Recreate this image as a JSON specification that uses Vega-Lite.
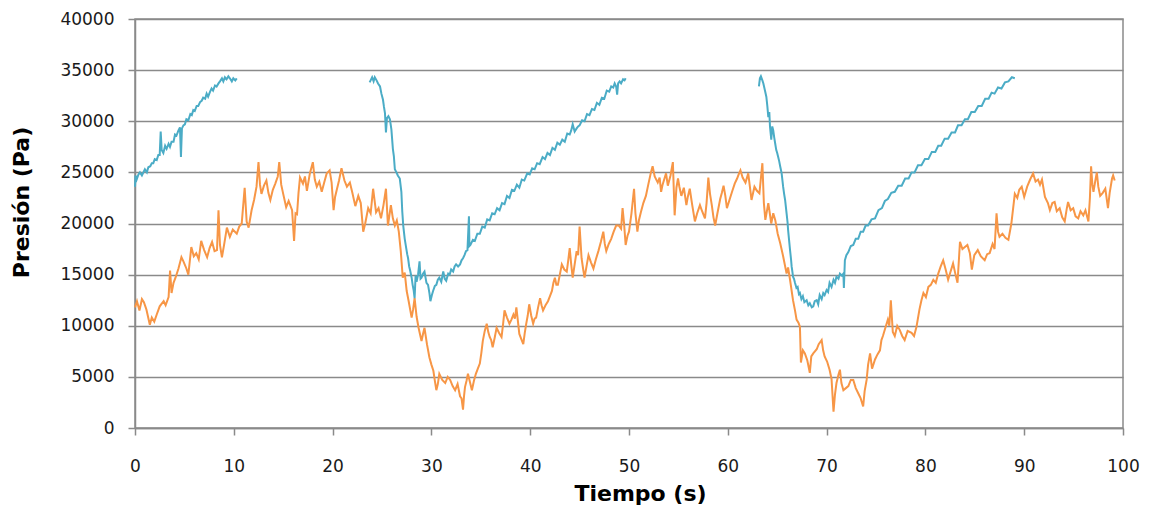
{
  "$schema": "https://vega.github.io/schema/vega-lite/v6.json",
  "width": 988,
  "height": 409,
  "autosize": {"type": "none"},
  "padding": {"left": 135, "top": 19, "right": 27, "bottom": 82},
  "background": "white",
  "config": {
    "view": {"stroke": "#8a8a8a", "strokeWidth": 1.5},
    "font": "DejaVu Sans"
  },
  "data": {"values": [
{"t":0,"s":"o","p":11800},{"t":0.2,"s":"o","p":12400},{"t":0.45,"s":"o","p":11500},{"t":0.7,"s":"o","p":12600},{"t":0.9,"s":"o","p":12300},{"t":1.15,"s":"o","p":11600},{"t":1.5,"s":"o","p":10100},{"t":1.7,"s":"o","p":10800},{"t":1.95,"s":"o","p":10400},{"t":2.2,"s":"o","p":11100},{"t":2.5,"s":"o","p":11900},{"t":2.9,"s":"o","p":12400},{"t":3.1,"s":"o","p":12000},{"t":3.4,"s":"o","p":12800},{"t":3.55,"s":"o","p":15400},{"t":3.7,"s":"o","p":13200},{"t":3.9,"s":"o","p":14200},{"t":4.1,"s":"o","p":14700},{"t":4.4,"s":"o","p":15600},{"t":4.7,"s":"o","p":16700},{"t":4.9,"s":"o","p":16300},{"t":5.2,"s":"o","p":15600},{"t":5.4,"s":"o","p":15000},{"t":5.7,"s":"o","p":17700},{"t":5.95,"s":"o","p":16800},{"t":6.2,"s":"o","p":17100},{"t":6.45,"s":"o","p":16500},{"t":6.7,"s":"o","p":18300},{"t":7.0,"s":"o","p":17400},{"t":7.3,"s":"o","p":16700},{"t":7.55,"s":"o","p":17600},{"t":7.8,"s":"o","p":18200},{"t":8.05,"s":"o","p":17300},{"t":8.3,"s":"o","p":17400},{"t":8.45,"s":"o","p":21300},{"t":8.6,"s":"o","p":17900},{"t":8.8,"s":"o","p":16700},{"t":9.05,"s":"o","p":18100},{"t":9.3,"s":"o","p":19600},{"t":9.6,"s":"o","p":18700},{"t":9.9,"s":"o","p":19400},{"t":10.3,"s":"o","p":19000},{"t":10.55,"s":"o","p":19700},{"t":10.8,"s":"o","p":20000},{"t":11.1,"s":"o","p":23500},{"t":11.3,"s":"o","p":20200},{"t":11.5,"s":"o","p":19600},{"t":11.8,"s":"o","p":21300},{"t":12.05,"s":"o","p":22300},{"t":12.3,"s":"o","p":23600},{"t":12.5,"s":"o","p":26000},{"t":12.65,"s":"o","p":23800},{"t":12.8,"s":"o","p":22900},{"t":13.05,"s":"o","p":23700},{"t":13.3,"s":"o","p":24200},{"t":13.5,"s":"o","p":23000},{"t":13.7,"s":"o","p":22300},{"t":13.95,"s":"o","p":23300},{"t":14.2,"s":"o","p":23900},{"t":14.45,"s":"o","p":24600},{"t":14.6,"s":"o","p":26000},{"t":14.8,"s":"o","p":23800},{"t":15.0,"s":"o","p":22900},{"t":15.3,"s":"o","p":21600},{"t":15.55,"s":"o","p":22200},{"t":15.9,"s":"o","p":21300},{"t":16.1,"s":"o","p":18300},{"t":16.25,"s":"o","p":21000},{"t":16.4,"s":"o","p":20900},{"t":16.55,"s":"o","p":23000},{"t":16.7,"s":"o","p":24500},{"t":17.0,"s":"o","p":23900},{"t":17.2,"s":"o","p":24600},{"t":17.4,"s":"o","p":23200},{"t":17.7,"s":"o","p":24900},{"t":18.0,"s":"o","p":26000},{"t":18.2,"s":"o","p":24300},{"t":18.4,"s":"o","p":23600},{"t":18.65,"s":"o","p":24100},{"t":18.9,"s":"o","p":23100},{"t":19.15,"s":"o","p":24000},{"t":19.4,"s":"o","p":24900},{"t":19.7,"s":"o","p":25200},{"t":19.9,"s":"o","p":24000},{"t":20.1,"s":"o","p":21300},{"t":20.25,"s":"o","p":22600},{"t":20.4,"s":"o","p":23200},{"t":20.65,"s":"o","p":24200},{"t":20.9,"s":"o","p":25400},{"t":21.2,"s":"o","p":24200},{"t":21.45,"s":"o","p":23600},{"t":21.75,"s":"o","p":24000},{"t":22.0,"s":"o","p":23000},{"t":22.3,"s":"o","p":21700},{"t":22.6,"s":"o","p":22700},{"t":22.85,"s":"o","p":22000},{"t":23.1,"s":"o","p":19200},{"t":23.3,"s":"o","p":20000},{"t":23.6,"s":"o","p":21500},{"t":23.85,"s":"o","p":21000},{"t":24.1,"s":"o","p":23400},{"t":24.4,"s":"o","p":21100},{"t":24.65,"s":"o","p":21500},{"t":24.9,"s":"o","p":20500},{"t":25.15,"s":"o","p":21800},{"t":25.4,"s":"o","p":23400},{"t":25.6,"s":"o","p":19800},{"t":25.9,"s":"o","p":21800},{"t":26.1,"s":"o","p":20500},{"t":26.3,"s":"o","p":19800},{"t":26.5,"s":"o","p":20300},{"t":26.7,"s":"o","p":19200},{"t":26.9,"s":"o","p":17300},{"t":27.1,"s":"o","p":14700},{"t":27.3,"s":"o","p":15200},{"t":27.5,"s":"o","p":13400},{"t":27.7,"s":"o","p":12400},{"t":28.0,"s":"o","p":10800},{"t":28.15,"s":"o","p":11600},{"t":28.3,"s":"o","p":12700},{"t":28.5,"s":"o","p":10900},{"t":28.7,"s":"o","p":9800},{"t":29.0,"s":"o","p":8500},{"t":29.15,"s":"o","p":9200},{"t":29.3,"s":"o","p":9800},{"t":29.55,"s":"o","p":8200},{"t":29.8,"s":"o","p":6900},{"t":30.0,"s":"o","p":6200},{"t":30.2,"s":"o","p":5600},{"t":30.35,"s":"o","p":4600},{"t":30.5,"s":"o","p":3700},{"t":30.65,"s":"o","p":4300},{"t":30.8,"s":"o","p":5300},{"t":31.1,"s":"o","p":4700},{"t":31.4,"s":"o","p":4400},{"t":31.65,"s":"o","p":5000},{"t":31.9,"s":"o","p":4700},{"t":32.15,"s":"o","p":4100},{"t":32.4,"s":"o","p":3700},{"t":32.65,"s":"o","p":4300},{"t":32.9,"s":"o","p":3100},{"t":33.05,"s":"o","p":2900},{"t":33.2,"s":"o","p":1800},{"t":33.3,"s":"o","p":3100},{"t":33.4,"s":"o","p":4000},{"t":33.55,"s":"o","p":4600},{"t":33.7,"s":"o","p":5300},{"t":33.9,"s":"o","p":4500},{"t":34.1,"s":"o","p":3700},{"t":34.3,"s":"o","p":4600},{"t":34.5,"s":"o","p":5300},{"t":34.7,"s":"o","p":5800},{"t":34.9,"s":"o","p":6300},{"t":35.05,"s":"o","p":7300},{"t":35.2,"s":"o","p":8500},{"t":35.4,"s":"o","p":9500},{"t":35.6,"s":"o","p":10200},{"t":35.75,"s":"o","p":9400},{"t":35.9,"s":"o","p":8900},{"t":36.05,"s":"o","p":8600},{"t":36.2,"s":"o","p":7900},{"t":36.4,"s":"o","p":8800},{"t":36.6,"s":"o","p":9800},{"t":36.85,"s":"o","p":9300},{"t":37.1,"s":"o","p":8900},{"t":37.25,"s":"o","p":10100},{"t":37.4,"s":"o","p":11500},{"t":37.65,"s":"o","p":10800},{"t":37.9,"s":"o","p":10200},{"t":38.1,"s":"o","p":10600},{"t":38.3,"s":"o","p":11100},{"t":38.45,"s":"o","p":10700},{"t":38.6,"s":"o","p":11800},{"t":38.75,"s":"o","p":10500},{"t":38.9,"s":"o","p":9200},{"t":39.1,"s":"o","p":8700},{"t":39.3,"s":"o","p":8200},{"t":39.45,"s":"o","p":9300},{"t":39.6,"s":"o","p":10200},{"t":39.75,"s":"o","p":11000},{"t":39.9,"s":"o","p":12100},{"t":40.1,"s":"o","p":11000},{"t":40.3,"s":"o","p":10200},{"t":40.45,"s":"o","p":10700},{"t":40.6,"s":"o","p":10800},{"t":40.8,"s":"o","p":11800},{"t":41.0,"s":"o","p":12700},{"t":41.15,"s":"o","p":12000},{"t":41.3,"s":"o","p":11500},{"t":41.55,"s":"o","p":12000},{"t":41.8,"s":"o","p":12400},{"t":42.0,"s":"o","p":12900},{"t":42.2,"s":"o","p":13400},{"t":42.35,"s":"o","p":14200},{"t":42.5,"s":"o","p":14700},{"t":42.65,"s":"o","p":14000},{"t":42.8,"s":"o","p":14000},{"t":43.0,"s":"o","p":15000},{"t":43.2,"s":"o","p":16000},{"t":43.45,"s":"o","p":15500},{"t":43.7,"s":"o","p":15300},{"t":43.85,"s":"o","p":16400},{"t":44.0,"s":"o","p":17600},{"t":44.15,"s":"o","p":16000},{"t":44.3,"s":"o","p":14700},{"t":44.5,"s":"o","p":16000},{"t":44.7,"s":"o","p":17300},{"t":44.85,"s":"o","p":16900},{"t":45.0,"s":"o","p":19700},{"t":45.2,"s":"o","p":16600},{"t":45.35,"s":"o","p":15600},{"t":45.5,"s":"o","p":14700},{"t":45.7,"s":"o","p":15800},{"t":45.9,"s":"o","p":16900},{"t":46.15,"s":"o","p":16200},{"t":46.4,"s":"o","p":15600},{"t":46.65,"s":"o","p":16500},{"t":46.9,"s":"o","p":17300},{"t":47.15,"s":"o","p":18200},{"t":47.4,"s":"o","p":19200},{"t":47.55,"s":"o","p":18000},{"t":47.7,"s":"o","p":17300},{"t":47.95,"s":"o","p":18000},{"t":48.2,"s":"o","p":18500},{"t":48.45,"s":"o","p":19200},{"t":48.7,"s":"o","p":19800},{"t":48.97,"s":"o","p":19800},{"t":49.2,"s":"o","p":19500},{"t":49.35,"s":"o","p":21500},{"t":49.5,"s":"o","p":20000},{"t":49.66,"s":"o","p":17900},{"t":49.85,"s":"o","p":18800},{"t":50.0,"s":"o","p":19200},{"t":50.25,"s":"o","p":21000},{"t":50.51,"s":"o","p":23400},{"t":50.65,"s":"o","p":21000},{"t":50.85,"s":"o","p":19200},{"t":51.0,"s":"o","p":20300},{"t":51.2,"s":"o","p":21100},{"t":51.45,"s":"o","p":22000},{"t":51.71,"s":"o","p":22700},{"t":51.95,"s":"o","p":23800},{"t":52.22,"s":"o","p":25000},{"t":52.39,"s":"o","p":25600},{"t":52.6,"s":"o","p":24600},{"t":52.91,"s":"o","p":24000},{"t":53.1,"s":"o","p":24500},{"t":53.25,"s":"o","p":23100},{"t":53.4,"s":"o","p":23800},{"t":53.59,"s":"o","p":24400},{"t":53.75,"s":"o","p":24900},{"t":53.93,"s":"o","p":23700},{"t":54.2,"s":"o","p":24700},{"t":54.44,"s":"o","p":26000},{"t":54.62,"s":"o","p":20800},{"t":54.8,"s":"o","p":23500},{"t":54.96,"s":"o","p":24400},{"t":55.1,"s":"o","p":23600},{"t":55.3,"s":"o","p":22700},{"t":55.55,"s":"o","p":23500},{"t":55.81,"s":"o","p":21800},{"t":55.95,"s":"o","p":22600},{"t":56.15,"s":"o","p":23400},{"t":56.4,"s":"o","p":21800},{"t":56.67,"s":"o","p":20200},{"t":56.9,"s":"o","p":21000},{"t":57.18,"s":"o","p":21800},{"t":57.4,"s":"o","p":21200},{"t":57.69,"s":"o","p":20500},{"t":57.85,"s":"o","p":22000},{"t":58.03,"s":"o","p":24500},{"t":58.2,"s":"o","p":22900},{"t":58.38,"s":"o","p":21800},{"t":58.55,"s":"o","p":20600},{"t":58.72,"s":"o","p":19800},{"t":58.95,"s":"o","p":21000},{"t":59.23,"s":"o","p":22400},{"t":59.4,"s":"o","p":23000},{"t":59.57,"s":"o","p":23700},{"t":59.75,"s":"o","p":22700},{"t":59.91,"s":"o","p":21500},{"t":60.2,"s":"o","p":22400},{"t":60.43,"s":"o","p":23100},{"t":60.7,"s":"o","p":23900},{"t":60.94,"s":"o","p":24400},{"t":61.1,"s":"o","p":24800},{"t":61.28,"s":"o","p":25200},{"t":61.5,"s":"o","p":24500},{"t":61.79,"s":"o","p":24000},{"t":62.07,"s":"o","p":24900},{"t":62.4,"s":"o","p":22300},{"t":62.7,"s":"o","p":23600},{"t":62.95,"s":"o","p":23200},{"t":63.2,"s":"o","p":22950},{"t":63.5,"s":"o","p":25900},{"t":63.65,"s":"o","p":22000},{"t":63.8,"s":"o","p":20350},{"t":64.1,"s":"o","p":22000},{"t":64.4,"s":"o","p":20000},{"t":64.6,"s":"o","p":21000},{"t":64.8,"s":"o","p":20350},{"t":65.05,"s":"o","p":19000},{"t":65.3,"s":"o","p":18100},{"t":65.6,"s":"o","p":16800},{"t":65.95,"s":"o","p":15100},{"t":66.1,"s":"o","p":15700},{"t":66.3,"s":"o","p":14500},{"t":66.6,"s":"o","p":12500},{"t":66.8,"s":"o","p":11500},{"t":66.96,"s":"o","p":10600},{"t":67.15,"s":"o","p":10300},{"t":67.3,"s":"o","p":9900},{"t":67.4,"s":"o","p":6400},{"t":67.6,"s":"o","p":7600},{"t":67.8,"s":"o","p":7300},{"t":68.05,"s":"o","p":6600},{"t":68.3,"s":"o","p":5400},{"t":68.45,"s":"o","p":7000},{"t":68.65,"s":"o","p":7300},{"t":69.0,"s":"o","p":7700},{"t":69.2,"s":"o","p":8200},{"t":69.5,"s":"o","p":8600},{"t":69.65,"s":"o","p":7600},{"t":69.8,"s":"o","p":7000},{"t":70.05,"s":"o","p":6500},{"t":70.3,"s":"o","p":5700},{"t":70.5,"s":"o","p":4800},{"t":70.7,"s":"o","p":1600},{"t":70.85,"s":"o","p":3300},{"t":71.0,"s":"o","p":4400},{"t":71.2,"s":"o","p":5200},{"t":71.35,"s":"o","p":5700},{"t":71.5,"s":"o","p":4400},{"t":71.7,"s":"o","p":3700},{"t":71.95,"s":"o","p":3900},{"t":72.2,"s":"o","p":4100},{"t":72.45,"s":"o","p":4700},{"t":72.7,"s":"o","p":4700},{"t":72.95,"s":"o","p":3900},{"t":73.2,"s":"o","p":3400},{"t":73.45,"s":"o","p":2900},{"t":73.7,"s":"o","p":2100},{"t":73.85,"s":"o","p":3600},{"t":74.05,"s":"o","p":4700},{"t":74.2,"s":"o","p":6200},{"t":74.4,"s":"o","p":7300},{"t":74.6,"s":"o","p":5800},{"t":74.9,"s":"o","p":6700},{"t":75.15,"s":"o","p":7200},{"t":75.4,"s":"o","p":7600},{"t":75.55,"s":"o","p":8600},{"t":75.7,"s":"o","p":9000},{"t":75.95,"s":"o","p":9800},{"t":76.2,"s":"o","p":10600},{"t":76.35,"s":"o","p":10000},{"t":76.5,"s":"o","p":12500},{"t":76.7,"s":"o","p":9400},{"t":76.9,"s":"o","p":9000},{"t":77.15,"s":"o","p":10000},{"t":77.4,"s":"o","p":9600},{"t":77.65,"s":"o","p":9000},{"t":77.9,"s":"o","p":8600},{"t":78.2,"s":"o","p":9500},{"t":78.6,"s":"o","p":9300},{"t":78.85,"s":"o","p":9000},{"t":79.1,"s":"o","p":9900},{"t":79.4,"s":"o","p":11600},{"t":79.6,"s":"o","p":12500},{"t":79.8,"s":"o","p":13200},{"t":80.05,"s":"o","p":12800},{"t":80.3,"s":"o","p":13800},{"t":80.55,"s":"o","p":14000},{"t":80.8,"s":"o","p":14500},{"t":81.05,"s":"o","p":14200},{"t":81.3,"s":"o","p":15100},{"t":81.55,"s":"o","p":15800},{"t":81.8,"s":"o","p":16400},{"t":82.05,"s":"o","p":15500},{"t":82.3,"s":"o","p":14500},{"t":82.55,"s":"o","p":15300},{"t":82.8,"s":"o","p":16100},{"t":83.05,"s":"o","p":15000},{"t":83.25,"s":"o","p":14200},{"t":83.5,"s":"o","p":18200},{"t":83.75,"s":"o","p":17500},{"t":84.0,"s":"o","p":17700},{"t":84.25,"s":"o","p":17900},{"t":84.5,"s":"o","p":17100},{"t":84.7,"s":"o","p":15500},{"t":84.95,"s":"o","p":16900},{"t":85.3,"s":"o","p":17400},{"t":85.6,"s":"o","p":16800},{"t":86.0,"s":"o","p":16400},{"t":86.25,"s":"o","p":17000},{"t":86.5,"s":"o","p":17100},{"t":86.8,"s":"o","p":18000},{"t":87.0,"s":"o","p":17500},{"t":87.2,"s":"o","p":21000},{"t":87.35,"s":"o","p":19200},{"t":87.5,"s":"o","p":18700},{"t":87.8,"s":"o","p":19000},{"t":88.1,"s":"o","p":18600},{"t":88.4,"s":"o","p":18400},{"t":88.7,"s":"o","p":20000},{"t":89.05,"s":"o","p":22900},{"t":89.3,"s":"o","p":22500},{"t":89.5,"s":"o","p":23300},{"t":89.75,"s":"o","p":23600},{"t":90.0,"s":"o","p":22600},{"t":90.3,"s":"o","p":23600},{"t":90.6,"s":"o","p":24300},{"t":90.9,"s":"o","p":24900},{"t":91.15,"s":"o","p":24100},{"t":91.4,"s":"o","p":24300},{"t":91.6,"s":"o","p":23800},{"t":91.8,"s":"o","p":24300},{"t":92.1,"s":"o","p":22600},{"t":92.4,"s":"o","p":22000},{"t":92.6,"s":"o","p":21300},{"t":92.85,"s":"o","p":22000},{"t":93.08,"s":"o","p":22100},{"t":93.3,"s":"o","p":21200},{"t":93.59,"s":"o","p":21500},{"t":93.85,"s":"o","p":20600},{"t":94.1,"s":"o","p":20200},{"t":94.3,"s":"o","p":21400},{"t":94.44,"s":"o","p":22100},{"t":94.7,"s":"o","p":21300},{"t":94.96,"s":"o","p":21500},{"t":95.2,"s":"o","p":20700},{"t":95.47,"s":"o","p":20500},{"t":95.7,"s":"o","p":21200},{"t":95.98,"s":"o","p":20800},{"t":96.2,"s":"o","p":21300},{"t":96.5,"s":"o","p":20200},{"t":96.65,"s":"o","p":22500},{"t":96.77,"s":"o","p":25600},{"t":96.9,"s":"o","p":23800},{"t":97.01,"s":"o","p":23100},{"t":97.2,"s":"o","p":24200},{"t":97.35,"s":"o","p":25000},{"t":97.5,"s":"o","p":23600},{"t":97.69,"s":"o","p":22700},{"t":97.95,"s":"o","p":23000},{"t":98.21,"s":"o","p":23400},{"t":98.48,"s":"o","p":21500},{"t":98.65,"s":"o","p":23000},{"t":98.89,"s":"o","p":24400},{"t":99.0,"s":"o","p":24700},{"t":99.16,"s":"o","p":24200},
{"t":0,"s":"b1","p":23600},{"t":0.05,"s":"b1","p":24700},{"t":0.17,"s":"b1","p":24300},{"t":0.35,"s":"b1","p":24800},{"t":0.5,"s":"b1","p":25000},{"t":0.7,"s":"b1","p":24700},{"t":1.0,"s":"b1","p":25300},{"t":1.2,"s":"b1","p":25000},{"t":1.35,"s":"b1","p":25500},{"t":1.55,"s":"b1","p":25600},{"t":1.7,"s":"b1","p":25900},{"t":1.85,"s":"b1","p":25900},{"t":2.0,"s":"b1","p":26300},{"t":2.2,"s":"b1","p":26200},{"t":2.36,"s":"b1","p":26700},{"t":2.5,"s":"b1","p":26700},{"t":2.6,"s":"b1","p":29000},{"t":2.7,"s":"b1","p":27200},{"t":2.87,"s":"b1","p":26900},{"t":3.05,"s":"b1","p":27600},{"t":3.2,"s":"b1","p":27300},{"t":3.4,"s":"b1","p":27800},{"t":3.54,"s":"b1","p":27500},{"t":3.7,"s":"b1","p":28000},{"t":3.9,"s":"b1","p":28000},{"t":4.05,"s":"b1","p":28700},{"t":4.2,"s":"b1","p":28600},{"t":4.4,"s":"b1","p":29100},{"t":4.55,"s":"b1","p":29400},{"t":4.65,"s":"b1","p":26500},{"t":4.75,"s":"b1","p":29300},{"t":4.9,"s":"b1","p":29600},{"t":5.05,"s":"b1","p":29700},{"t":5.2,"s":"b1","p":30200},{"t":5.4,"s":"b1","p":30100},{"t":5.6,"s":"b1","p":30700},{"t":5.75,"s":"b1","p":30600},{"t":5.9,"s":"b1","p":31100},{"t":6.05,"s":"b1","p":31000},{"t":6.24,"s":"b1","p":31500},{"t":6.4,"s":"b1","p":31500},{"t":6.6,"s":"b1","p":31900},{"t":6.75,"s":"b1","p":32000},{"t":6.9,"s":"b1","p":32300},{"t":7.1,"s":"b1","p":32200},{"t":7.25,"s":"b1","p":32700},{"t":7.4,"s":"b1","p":32400},{"t":7.6,"s":"b1","p":32900},{"t":7.75,"s":"b1","p":33200},{"t":7.9,"s":"b1","p":33000},{"t":8.1,"s":"b1","p":33500},{"t":8.26,"s":"b1","p":33400},{"t":8.45,"s":"b1","p":33700},{"t":8.6,"s":"b1","p":33900},{"t":8.8,"s":"b1","p":34200},{"t":8.94,"s":"b1","p":33900},{"t":9.1,"s":"b1","p":34300},{"t":9.27,"s":"b1","p":34100},{"t":9.45,"s":"b1","p":34400},{"t":9.6,"s":"b1","p":34200},{"t":9.8,"s":"b1","p":33900},{"t":9.95,"s":"b1","p":34200},{"t":10.15,"s":"b1","p":34000},{"t":10.3,"s":"b1","p":34200},
{"t":23.75,"s":"b2","p":33800},{"t":24.0,"s":"b2","p":34300},{"t":24.15,"s":"b2","p":33900},{"t":24.27,"s":"b2","p":34300},{"t":24.45,"s":"b2","p":34000},{"t":24.6,"s":"b2","p":33700},{"t":24.8,"s":"b2","p":33400},{"t":24.94,"s":"b2","p":32700},{"t":25.1,"s":"b2","p":32100},{"t":25.2,"s":"b2","p":31400},{"t":25.3,"s":"b2","p":30800},{"t":25.4,"s":"b2","p":28900},{"t":25.5,"s":"b2","p":30300},{"t":25.65,"s":"b2","p":30500},{"t":25.8,"s":"b2","p":30200},{"t":25.95,"s":"b2","p":29200},{"t":26.1,"s":"b2","p":27300},{"t":26.2,"s":"b2","p":26600},{"t":26.3,"s":"b2","p":25300},{"t":26.46,"s":"b2","p":25000},{"t":26.6,"s":"b2","p":24700},{"t":26.8,"s":"b2","p":24400},{"t":26.96,"s":"b2","p":23100},{"t":27.05,"s":"b2","p":21200},{"t":27.15,"s":"b2","p":19800},{"t":27.3,"s":"b2","p":18500},{"t":27.45,"s":"b2","p":17600},{"t":27.55,"s":"b2","p":17000},{"t":27.64,"s":"b2","p":16600},{"t":27.75,"s":"b2","p":15800},{"t":27.85,"s":"b2","p":15400},{"t":28.0,"s":"b2","p":14700},{"t":28.1,"s":"b2","p":14000},{"t":28.2,"s":"b2","p":13500},{"t":28.3,"s":"b2","p":12700},{"t":28.4,"s":"b2","p":14900},{"t":28.5,"s":"b2","p":14300},{"t":28.65,"s":"b2","p":15000},{"t":28.8,"s":"b2","p":16300},{"t":28.9,"s":"b2","p":14600},{"t":29.0,"s":"b2","p":14700},{"t":29.15,"s":"b2","p":15100},{"t":29.3,"s":"b2","p":15300},{"t":29.5,"s":"b2","p":14200},{"t":29.66,"s":"b2","p":14000},{"t":29.8,"s":"b2","p":13200},{"t":29.9,"s":"b2","p":12400},{"t":30.05,"s":"b2","p":13000},{"t":30.17,"s":"b2","p":13400},{"t":30.35,"s":"b2","p":13900},{"t":30.5,"s":"b2","p":14000},{"t":30.65,"s":"b2","p":14500},{"t":30.8,"s":"b2","p":14700},{"t":31.0,"s":"b2","p":14300},{"t":31.2,"s":"b2","p":15300},{"t":31.35,"s":"b2","p":14600},{"t":31.5,"s":"b2","p":14400},{"t":31.7,"s":"b2","p":15100},{"t":31.85,"s":"b2","p":15000},{"t":32.0,"s":"b2","p":15500},{"t":32.2,"s":"b2","p":15300},{"t":32.35,"s":"b2","p":15800},{"t":32.5,"s":"b2","p":16000},{"t":32.7,"s":"b2","p":15800},{"t":32.9,"s":"b2","p":16000},{"t":33.05,"s":"b2","p":16400},{"t":33.2,"s":"b2","p":16600},{"t":33.35,"s":"b2","p":16900},{"t":33.5,"s":"b2","p":17300},{"t":33.65,"s":"b2","p":17400},{"t":33.8,"s":"b2","p":20700},{"t":33.85,"s":"b2","p":17800},{"t":33.95,"s":"b2","p":17900},{"t":34.2,"s":"b2","p":18400},{"t":34.4,"s":"b2","p":18300},{"t":34.65,"s":"b2","p":19000},{"t":34.9,"s":"b2","p":19000},{"t":35.15,"s":"b2","p":19700},{"t":35.4,"s":"b2","p":19600},{"t":35.65,"s":"b2","p":20400},{"t":35.9,"s":"b2","p":20300},{"t":36.15,"s":"b2","p":21000},{"t":36.4,"s":"b2","p":20900},{"t":36.65,"s":"b2","p":21500},{"t":36.9,"s":"b2","p":21300},{"t":37.15,"s":"b2","p":22000},{"t":37.4,"s":"b2","p":21900},{"t":37.65,"s":"b2","p":22700},{"t":37.9,"s":"b2","p":22500},{"t":38.15,"s":"b2","p":23300},{"t":38.4,"s":"b2","p":23200},{"t":38.65,"s":"b2","p":23800},{"t":38.9,"s":"b2","p":23500},{"t":39.15,"s":"b2","p":24300},{"t":39.4,"s":"b2","p":24200},{"t":39.7,"s":"b2","p":24900},{"t":39.95,"s":"b2","p":24800},{"t":40.2,"s":"b2","p":25400},{"t":40.45,"s":"b2","p":25300},{"t":40.7,"s":"b2","p":25900},{"t":40.96,"s":"b2","p":25800},{"t":41.25,"s":"b2","p":26500},{"t":41.5,"s":"b2","p":26300},{"t":41.75,"s":"b2","p":26900},{"t":42.0,"s":"b2","p":26700},{"t":42.25,"s":"b2","p":27400},{"t":42.5,"s":"b2","p":27200},{"t":42.75,"s":"b2","p":27900},{"t":43.0,"s":"b2","p":27700},{"t":43.25,"s":"b2","p":28200},{"t":43.5,"s":"b2","p":28000},{"t":43.75,"s":"b2","p":28800},{"t":44.0,"s":"b2","p":28700},{"t":44.15,"s":"b2","p":29100},{"t":44.3,"s":"b2","p":29700},{"t":44.5,"s":"b2","p":29000},{"t":44.7,"s":"b2","p":29300},{"t":44.85,"s":"b2","p":29500},{"t":45.0,"s":"b2","p":29600},{"t":45.25,"s":"b2","p":30100},{"t":45.5,"s":"b2","p":30000},{"t":45.75,"s":"b2","p":30700},{"t":46.0,"s":"b2","p":30600},{"t":46.25,"s":"b2","p":31200},{"t":46.5,"s":"b2","p":31100},{"t":46.75,"s":"b2","p":31800},{"t":47.0,"s":"b2","p":31600},{"t":47.25,"s":"b2","p":32300},{"t":47.5,"s":"b2","p":32200},{"t":47.75,"s":"b2","p":33000},{"t":48.0,"s":"b2","p":32900},{"t":48.2,"s":"b2","p":33400},{"t":48.4,"s":"b2","p":33300},{"t":48.55,"s":"b2","p":33700},{"t":48.7,"s":"b2","p":33400},{"t":48.8,"s":"b2","p":32600},{"t":48.9,"s":"b2","p":33700},{"t":49.05,"s":"b2","p":33900},{"t":49.2,"s":"b2","p":33700},{"t":49.4,"s":"b2","p":34100},{"t":49.55,"s":"b2","p":34000},{"t":49.66,"s":"b2","p":34200},
{"t":63.15,"s":"b3","p":33400},{"t":63.25,"s":"b3","p":34200},{"t":63.35,"s":"b3","p":34400},{"t":63.5,"s":"b3","p":34000},{"t":63.6,"s":"b3","p":33700},{"t":63.76,"s":"b3","p":33000},{"t":63.9,"s":"b3","p":32400},{"t":64.0,"s":"b3","p":31500},{"t":64.1,"s":"b3","p":30400},{"t":64.2,"s":"b3","p":30900},{"t":64.27,"s":"b3","p":29500},{"t":64.4,"s":"b3","p":28200},{"t":64.5,"s":"b3","p":29500},{"t":64.6,"s":"b3","p":29100},{"t":64.7,"s":"b3","p":28400},{"t":64.8,"s":"b3","p":27800},{"t":64.9,"s":"b3","p":27200},{"t":65.0,"s":"b3","p":26900},{"t":65.1,"s":"b3","p":26500},{"t":65.2,"s":"b3","p":26100},{"t":65.3,"s":"b3","p":25600},{"t":65.45,"s":"b3","p":24900},{"t":65.6,"s":"b3","p":23600},{"t":65.7,"s":"b3","p":22900},{"t":65.8,"s":"b3","p":22300},{"t":65.95,"s":"b3","p":21000},{"t":66.05,"s":"b3","p":20100},{"t":66.1,"s":"b3","p":19400},{"t":66.2,"s":"b3","p":18400},{"t":66.3,"s":"b3","p":17400},{"t":66.4,"s":"b3","p":16500},{"t":66.46,"s":"b3","p":15800},{"t":66.55,"s":"b3","p":15200},{"t":66.6,"s":"b3","p":14800},{"t":66.7,"s":"b3","p":14600},{"t":66.8,"s":"b3","p":14200},{"t":66.95,"s":"b3","p":13700},{"t":67.07,"s":"b3","p":13800},{"t":67.2,"s":"b3","p":13100},{"t":67.3,"s":"b3","p":13200},{"t":67.45,"s":"b3","p":12600},{"t":67.6,"s":"b3","p":12900},{"t":67.75,"s":"b3","p":12300},{"t":67.98,"s":"b3","p":12500},{"t":68.15,"s":"b3","p":12000},{"t":68.3,"s":"b3","p":12200},{"t":68.5,"s":"b3","p":11800},{"t":68.65,"s":"b3","p":11900},{"t":68.8,"s":"b3","p":12400},{"t":69.0,"s":"b3","p":12500},{"t":69.15,"s":"b3","p":12100},{"t":69.3,"s":"b3","p":13000},{"t":69.5,"s":"b3","p":12600},{"t":69.66,"s":"b3","p":13200},{"t":69.8,"s":"b3","p":13000},{"t":70.0,"s":"b3","p":13500},{"t":70.15,"s":"b3","p":13300},{"t":70.3,"s":"b3","p":14200},{"t":70.5,"s":"b3","p":13800},{"t":70.7,"s":"b3","p":14500},{"t":70.85,"s":"b3","p":14200},{"t":71.0,"s":"b3","p":14800},{"t":71.2,"s":"b3","p":14600},{"t":71.35,"s":"b3","p":15100},{"t":71.55,"s":"b3","p":14900},{"t":71.7,"s":"b3","p":15100},{"t":71.75,"s":"b3","p":13700},{"t":71.85,"s":"b3","p":16400},{"t":72.0,"s":"b3","p":16900},{"t":72.2,"s":"b3","p":17200},{"t":72.45,"s":"b3","p":17800},{"t":72.7,"s":"b3","p":17900},{"t":72.95,"s":"b3","p":18500},{"t":73.2,"s":"b3","p":18500},{"t":73.45,"s":"b3","p":19200},{"t":73.7,"s":"b3","p":19200},{"t":73.95,"s":"b3","p":19800},{"t":74.2,"s":"b3","p":19800},{"t":74.55,"s":"b3","p":20400},{"t":74.9,"s":"b3","p":20500},{"t":75.25,"s":"b3","p":21300},{"t":75.6,"s":"b3","p":21500},{"t":75.9,"s":"b3","p":22200},{"t":76.2,"s":"b3","p":22400},{"t":76.55,"s":"b3","p":23000},{"t":76.9,"s":"b3","p":23100},{"t":77.25,"s":"b3","p":23700},{"t":77.6,"s":"b3","p":23700},{"t":77.95,"s":"b3","p":24400},{"t":78.3,"s":"b3","p":24400},{"t":78.6,"s":"b3","p":25000},{"t":78.9,"s":"b3","p":25000},{"t":79.25,"s":"b3","p":25700},{"t":79.6,"s":"b3","p":25700},{"t":79.95,"s":"b3","p":26300},{"t":80.3,"s":"b3","p":26300},{"t":80.65,"s":"b3","p":27000},{"t":81.0,"s":"b3","p":27000},{"t":81.3,"s":"b3","p":27600},{"t":81.6,"s":"b3","p":27600},{"t":81.95,"s":"b3","p":28300},{"t":82.3,"s":"b3","p":28300},{"t":82.65,"s":"b3","p":28900},{"t":83.0,"s":"b3","p":28900},{"t":83.3,"s":"b3","p":29600},{"t":83.66,"s":"b3","p":29600},{"t":84.0,"s":"b3","p":30200},{"t":84.3,"s":"b3","p":30200},{"t":84.65,"s":"b3","p":30900},{"t":85.0,"s":"b3","p":30900},{"t":85.35,"s":"b3","p":31500},{"t":85.7,"s":"b3","p":31500},{"t":86.05,"s":"b3","p":32200},{"t":86.4,"s":"b3","p":32200},{"t":86.7,"s":"b3","p":32800},{"t":87.0,"s":"b3","p":32700},{"t":87.35,"s":"b3","p":33300},{"t":87.7,"s":"b3","p":33200},{"t":88.05,"s":"b3","p":33800},{"t":88.4,"s":"b3","p":33900},{"t":88.75,"s":"b3","p":34300},{"t":89.05,"s":"b3","p":34200}
  ]},
  "mark": {"type": "line", "strokeWidth": 2, "strokeJoin": "miter", "interpolate": "linear"},
  "encoding": {
    "x": {
      "field": "t", "type": "quantitative",
      "scale": {"domain": [0, 100], "nice": false, "zero": false},
      "axis": {
        "title": "Tiempo (s)", "values": [0,10,20,30,40,50,60,70,80,90,100],
        "grid": false, "domainColor": "#8a8a8a", "domainWidth": 1.5,
        "tickColor": "#8a8a8a", "tickWidth": 1.5, "tickSize": 7,
        "labelFont": "DejaVu Sans", "labelFontSize": 17, "labelColor": "#1a1a1a",
        "labelPadding": 23, "labelFlush": false,
        "titleFont": "DejaVu Sans", "titleFontSize": 22, "titleFontWeight": "bold", "titleColor": "#000000",
        "titleX": 505, "titleY": 65, "titleBaseline": "middle", "titleAnchor": null, "titleAlign": "center"
      }
    },
    "y": {
      "field": "p", "type": "quantitative",
      "scale": {"domain": [0, 40000], "nice": false},
      "axis": {
        "title": "Presión (Pa)", "values": [0,5000,10000,15000,20000,25000,30000,35000,40000],
        "format": "d",
        "grid": true, "gridColor": "#8a8a8a", "gridWidth": 1.5,
        "domainColor": "#8a8a8a", "domainWidth": 1.5,
        "tickColor": "#8a8a8a", "tickWidth": 1.5, "tickSize": 7,
        "labelFont": "DejaVu Sans", "labelFontSize": 17, "labelColor": "#1a1a1a",
        "labelPadding": 14,
        "titleFont": "DejaVu Sans", "titleFontSize": 22, "titleFontWeight": "bold", "titleColor": "#000000",
        "titleX": -114, "titleY": 183, "titleBaseline": "middle", "titleAngle": -90, "titleAlign": "center"
      }
    },
    "color": {
      "field": "s", "type": "nominal",
      "scale": {"domain": ["o","b1","b2","b3"], "range": ["#F79646","#4BACC6","#4BACC6","#4BACC6"]},
      "legend": null
    },
    "order": {"field": "t", "type": "quantitative"}
  }
}
